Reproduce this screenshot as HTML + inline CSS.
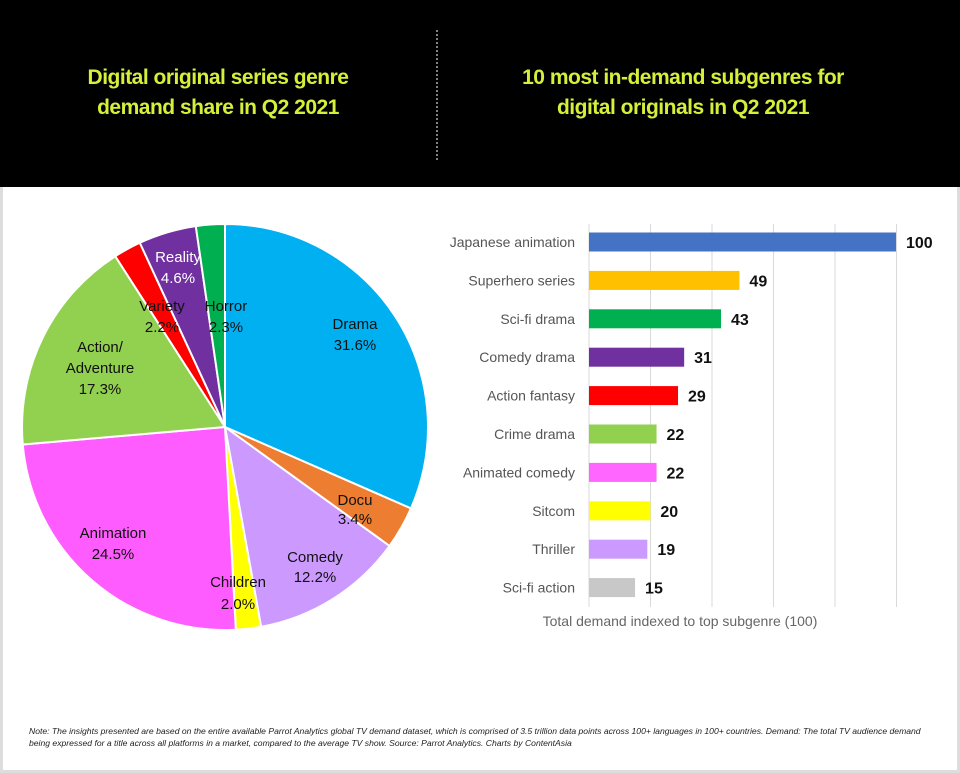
<!DOCTYPE html>
<html><head><meta charset="utf-8"><style>
html,body{margin:0;padding:0;width:960px;height:773px;overflow:hidden;background:#ddd;font-family:"Liberation Sans",sans-serif;}
#hdr{position:absolute;left:0;top:0;width:960px;height:187px;background:#000;}
.t{position:absolute;color:#d6f03a;font-weight:bold;font-size:21px;line-height:30px;text-align:center;letter-spacing:-0.5px}
#body{position:absolute;left:3px;top:187px;width:954px;height:583px;background:#fff;}
svg{position:absolute;left:0;top:0}
.note{position:absolute;left:29px;top:725px;width:910px;font-size:8.6px;font-style:italic;color:#222;line-height:12px}
</style></head><body>
<div id="hdr"></div>
<div id="body"></div>
<div class="t" style="left:18px;top:63px;width:400px">Digital original series genre<br>demand share in Q2 2021</div>
<div class="t" style="left:483px;top:63px;width:400px">10 most in-demand subgenres for<br>digital originals in Q2 2021</div>
<svg width="960" height="773" id="s">
<line x1="437" y1="30" x2="437" y2="162" stroke="#fff" stroke-width="1" stroke-dasharray="2,2"/>
<g id="pie"></g>
<g font-size="15" text-anchor="middle" fill="#111">
<text x="355" y="329">Drama</text><text x="355" y="350">31.6%</text>
<text x="355" y="505">Docu</text><text x="355" y="524">3.4%</text>
<text x="315" y="562">Comedy</text><text x="315" y="582">12.2%</text>
<text x="238" y="587">Children</text><text x="238" y="609">2.0%</text>
<text x="113" y="538">Animation</text><text x="113" y="559">24.5%</text>
<text x="100" y="352">Action/</text><text x="100" y="373">Adventure</text><text x="100" y="394">17.3%</text>
<text x="162" y="311">Variety</text><text x="162" y="332">2.2%</text>
<text x="226" y="311">Horror</text><text x="226" y="332">2.3%</text>
<text x="178" y="262" fill="#fff">Reality</text><text x="178" y="283" fill="#fff">4.6%</text>
</g>
<g id="bars"></g>
<text x="680" y="626" font-size="14" fill="#666" text-anchor="middle">Total demand indexed to top subgenre (100)</text>
</svg>
<div class="note">Note: The insights presented are based on the entire available Parrot Analytics global TV demand dataset, which is comprised of 3.5 trillion data points across 100+ languages in 100+ countries. Demand: The total TV audience demand being expressed for a title across all platforms in a market, compared to the average TV show. Source: Parrot Analytics. Charts by ContentAsia</div>
<script>
var NS="http://www.w3.org/2000/svg";
function el(t,a,p){var e=document.createElementNS(NS,t);for(var k in a)e.setAttribute(k,a[k]);p.appendChild(e);return e;}
var pie=document.getElementById('pie');
var d=[[31.6,'#00b0f0'],[3.4,'#ed7d31'],[12.2,'#cc99ff'],[2.0,'#ffff00'],[24.5,'#ff5cff'],[17.3,'#92d050'],[2.2,'#ff0000'],[4.6,'#7030a0'],[2.3,'#00b050']];
var cx=225,cy=427,r=203,a=0,tot=100.1;
d.forEach(function(s){var a2=a+s[0]/tot*2*Math.PI;
var x1=cx+r*Math.sin(a),y1=cy-r*Math.cos(a),x2=cx+r*Math.sin(a2),y2=cy-r*Math.cos(a2);
el('path',{d:'M'+cx+','+cy+' L'+x1+','+y1+' A'+r+','+r+' 0 '+((a2-a)>Math.PI?1:0)+' 1 '+x2+','+y2+' Z',fill:s[1],stroke:'#fff','stroke-width':2},pie);a=a2;});
var b=document.getElementById('bars');
for(var i=0;i<=5;i++){var x=589+i*61.5;el('line',{x1:x,y1:224,x2:x,y2:607,stroke:'#d9d9d9','stroke-width':1},b);}
var bd=[['Japanese animation',100,'#4472c4'],['Superhero series',49,'#ffc000'],['Sci-fi drama',43,'#00b050'],['Comedy drama',31,'#7030a0'],['Action fantasy',29,'#ff0000'],['Crime drama',22,'#92d050'],['Animated comedy',22,'#ff66ff'],['Sitcom',20,'#ffff00'],['Thriller',19,'#cc99ff'],['Sci-fi action',15,'#c8c8c8']];
bd.forEach(function(q,i){var y=242+i*38.4;var w=q[1]*3.07;
el('rect',{x:589,y:y-9.5,width:w,height:19,fill:q[2]},b);
var t=el('text',{x:575,y:y+5,'font-size':14,fill:'#555','text-anchor':'end'},b);t.textContent=q[0];
var v=el('text',{x:589+w+10,y:y+6,'font-size':16,'font-weight':'bold',fill:'#111'},b);v.textContent=q[1];});
</script>
</body></html>
